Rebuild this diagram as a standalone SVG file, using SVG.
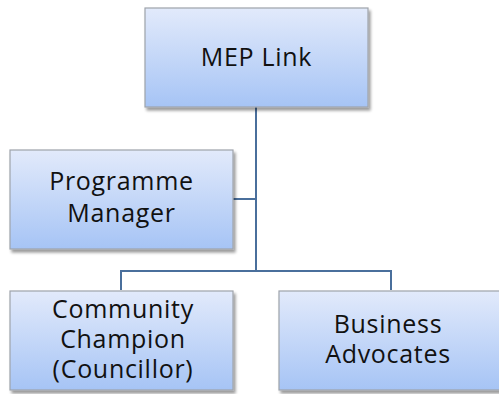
<svg xmlns="http://www.w3.org/2000/svg" width="499" height="394" viewBox="0 0 499 394">
<defs>
<linearGradient id="g" x1="0" y1="0" x2="0" y2="1">
<stop offset="0" stop-color="#e2eafb"/>
<stop offset="1" stop-color="#a6c4f5"/>
</linearGradient>
<filter id="sh" x="-5%" y="-5%" width="115%" height="120%">
<feGaussianBlur in="SourceAlpha" stdDeviation="1.5"/>
<feOffset dx="2" dy="3" result="b"/>
<feComponentTransfer><feFuncA type="linear" slope="0.4"/></feComponentTransfer>
<feMerge><feMergeNode/><feMergeNode in="SourceGraphic"/></feMerge>
</filter>
</defs>
<style>
.box{fill:url(#g);stroke:#9ea3ab;stroke-width:1.2;filter:url(#sh)}
.t{font-family:"Open Sans",sans-serif;font-size:25px;fill:#111;text-anchor:middle;letter-spacing:0.7px}
.c{fill:none;stroke:#4a6f9c;stroke-width:2}
</style>
<rect width="499" height="394" fill="#fff"/>
<g id="connectors">
<path class="c" d="M256,107 V270"/>
<path class="c" d="M233,199 H256"/>
<path class="c" d="M121,290 V271 H391 V290"/>
</g>
<g id="mep">
<rect class="box" x="145" y="8" width="223" height="99"/>
<text class="t" x="256.5" y="65.5">MEP Link</text>
</g>
<g id="pm">
<rect class="box" x="10" y="150" width="223" height="99"/>
<text class="t" x="121.5" y="190">Programme</text>
<text class="t" x="121.5" y="222">Manager</text>
</g>
<g id="cc">
<rect class="box" x="10" y="291" width="223" height="99"/>
<text class="t" x="123" y="318">Community</text>
<text class="t" x="123" y="348">Champion</text>
<text class="t" x="123" y="378">(Councillor)</text>
</g>
<g id="ba">
<rect class="box" x="279" y="291" width="223" height="99"/>
<text class="t" x="388" y="333">Business</text>
<text class="t" x="388" y="363">Advocates</text>
</g>
</svg>
